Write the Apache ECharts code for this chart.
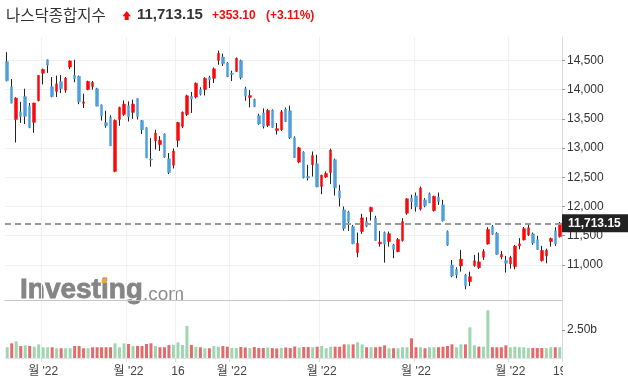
<!DOCTYPE html>
<html><head><meta charset="utf-8">
<script src="https://cdn.jsdelivr.net/npm/echarts@6/dist/echarts.min.js"></script>
<style>html,body{margin:0;padding:0;background:#fff}#c{width:628px;height:386px}</style>
</head><body><div id="c"></div>
<script>
const dates = ['01-20','01-21','01-24','01-25','01-26','01-27','01-28','01-31',
'02-01','02-02','02-03','02-04','02-07','02-08','02-09','02-10','02-11','02-14','02-15','02-16','02-17','02-18','02-22','02-23','02-24','02-25','02-28',
'03-01','03-02','03-03','03-04','03-07','03-08','03-09','03-10','03-11','03-14','03-15','03-16','03-17','03-18','03-21','03-22','03-23','03-24','03-25','03-28','03-29','03-30','03-31',
'04-01','04-04','04-05','04-06','04-07','04-08','04-11','04-12','04-13','04-14','04-18','04-19','04-20','04-21','04-22','04-25','04-26','04-27','04-28','04-29',
'05-02','05-03','05-04','05-05','05-06','05-09','05-10','05-11','05-12','05-13','05-16','05-17','05-18','05-19','05-20','05-23','05-24','05-25','05-26','05-27','05-31',
'06-01','06-02','06-03','06-06','06-07','06-08','06-09','06-10','06-13','06-14','06-15','06-16','06-17','06-21','06-22','06-23','06-24','06-27','06-28','06-29','06-30',
'07-01','07-05','07-06','07-07','07-08','07-11','07-12','07-13','07-14','07-15','07-18','07-19'];
const opens = [14480,14050,13490,13620,13880,13720,13440,13810,
14280,14510,14050,13970,14135,13990,14385,14243,14226,13765,14000,14055,14015,13740,13433,13525,12600,13490,13576,
13724,13610,13845,13470,13347,12810,13125,13060,13240,12815,12706,13130,13370,13575,13883,13873,14000,14000,14210,14192,14500,14558,14455,
14280,14312,14495,14015,13866,13832,13553,13600,13387,13650,13300,13313,13667,13638,13176,12760,12931,12513,12715,12730,
12342,12503,12580,12800,12268,11943,11908,11656,11211,11571,11742,11913,11800,11360,11554,11400,11343,11228,11417,11886,12143,
12182,11955,12114,12217,11930,12160,12028,11571,11000,10926,10983,10829,10714,10989,10954,11132,11360,11656,11543,11135,11074,
11017,10971,11326,11429,11514,11531,11429,11074,11155,11400,11583,11485];
const highs = [14640,14180,13870,13790,14015,13770,13775,14250,
14360,14515,14215,14240,14250,14215,14500,14510,14240,13930,14152,14147,14030,13745,13638,13560,13490,13707,13815,
13798,13827,13850,13480,13355,13170,13313,13205,13250,12914,12993,13448,13625,13912,13960,14123,14040,14210,14237,14380,14666,14615,14470,
14323,14550,14512,14049,13993,13845,13587,13678,13670,13663,13428,13650,13695,13724,13200,13020,12945,12713,12941,12885,
12543,12600,12990,12820,12371,12000,11925,11685,11554,11874,11816,11995,11840,11583,11571,11571,11360,11460,11800,12143,12200,
12239,12342,12143,12239,12182,12239,12114,11588,11086,10960,11257,10846,10885,11172,11211,11269,11646,11685,11560,11240,11155,
11155,11343,11458,11650,11714,11554,11497,11326,11280,11468,11646,11735];
const lows = [14140,13765,13094,13430,13410,13340,13260,13800,
14090,14285,13870,13873,13940,13945,14350,14125,13750,13684,13990,13998,13715,13470,13347,13037,12587,13380,13553,
13455,13500,13490,13240,12830,12683,12976,12950,12830,12555,12650,13016,13340,13550,13600,13850,13900,13900,14027,14113,14426,14404,14215,
14147,14300,14175,13810,13695,13700,13398,13335,13360,13347,13232,13290,13445,13154,12830,12740,12480,12444,12513,12330,
12211,12490,12383,12188,12000,11588,11583,11355,11132,11531,11646,11759,11417,11314,11040,11314,11115,11218,11400,11857,11955,
11913,11930,11988,12057,11913,12028,11742,11326,10790,10773,10885,10584,10641,10971,10932,11086,11348,11514,11175,11098,10868,
10937,10926,11269,11417,11497,11343,11257,11057,11029,11314,11326,11468];
const closes = [14154.02,13768.92,13855.13,13539.29,13542.12,13352.78,13770.57,14239.88,
14346.00,14417.55,13878.82,14098.01,14015.67,14194.46,14490.37,14185.64,13791.15,13790.92,14139.76,14124.09,13716.72,13548.07,13381.52,13037.49,13473.59,13694.62,13751.40,
13532.46,13752.02,13537.94,13313.44,12830.96,12795.55,13255.55,13129.96,12843.81,12581.22,12948.62,13436.55,13614.78,13893.84,13838.46,14108.82,13922.60,14191.84,14169.30,14354.90,14619.64,14442.27,14220.52,
14261.50,14532.55,14204.17,13888.82,13897.30,13711.00,13411.96,13371.57,13643.59,13351.08,13332.36,13619.66,13453.07,13174.65,12839.29,13004.85,12490.74,12488.93,12871.53,12334.64,
12536.02,12563.76,12964.86,12317.69,12144.66,11623.25,11737.67,11364.24,11370.96,11805.00,11662.79,11984.52,11418.15,11388.50,11354.62,11535.28,11264.45,11434.74,11740.65,12131.13,12081.39,
11994.46,12316.90,12012.73,12061.37,12175.23,12086.27,11754.23,11340.02,10809.23,10828.35,11099.15,10646.10,10798.35,11069.30,11053.08,11232.19,11607.62,11524.55,11181.54,11177.89,11028.74,
11127.85,11322.24,11361.85,11621.35,11635.31,11372.60,11264.73,11247.58,11251.19,11452.42,11360.05,11713.15];
const volumes = [0.96,1.31,1.49,1.07,1.13,1.07,1.01,1.22,
0.96,0.96,0.96,0.87,0.87,0.87,0.87,1.07,1.07,0.87,0.87,0.96,0.96,0.96,0.96,0.96,1.31,0.96,1.31,
1.25,1.07,1.07,1.07,1.25,1.31,1.07,0.96,0.96,1.16,1.16,1.40,1.16,2.86,1.16,1.01,0.96,0.87,0.87,1.07,1.01,1.07,1.01,
0.89,0.89,0.98,0.94,0.89,0.98,0.89,0.89,0.94,0.89,0.85,0.89,0.94,0.89,1.03,0.94,0.98,0.98,0.96,1.01,
1.07,0.87,1.01,1.01,1.01,1.22,1.22,1.22,1.40,1.22,0.96,0.96,0.96,1.01,1.13,0.87,0.87,0.87,0.96,0.96,1.76,
0.96,0.96,0.87,0.96,0.96,0.96,1.01,1.07,1.22,0.96,1.22,1.22,2.74,1.13,1.01,1.01,4.26,0.96,0.96,0.96,1.13,
0.96,1.01,0.96,0.96,0.89,0.89,0.89,0.89,0.89,0.96,0.96,0.96];
const tickIndex = [8,27,38,50,70,91,112,123];
const tickText = ["월 '22","월 '22","16","월 '22","월 '22","월 '22","월 '22","19"];
const priceTicks = [11000,11500,12000,12500,13000,13500,14000,14500];
const volumeTicks = [2.5];
const titleName = '나스닥종합지수';
const lastPriceText = '11,713.15';
const changeText = '+353.10';
const changePctText = '(+3.11%)';
const lastPrice = closes[closes.length - 1];

const RED = '#f80a0a', BLUE = '#4ea0dc', WICK = '#222';
const VUP = '#a0d5b2', VDN = '#e46b6b';
const FONT = "'Liberation Sans', 'Noto Sans CJK KR', sans-serif";

const wickData = dates.map((d, i) => [opens[i], closes[i], lows[i], highs[i]]);
const bodyData = dates.map((d, i) => [opens[i], closes[i], Math.min(opens[i], closes[i]), Math.max(opens[i], closes[i])]);
const volData = volumes.map((v, i) => ({
  value: v,
  itemStyle: { color: (i === 0 || closes[i] >= closes[i - 1]) ? VUP : VDN }
}));
const splitIdx = tickIndex.slice(0, tickIndex.length - 1);

const chart = echarts.init(document.getElementById('c'), null, { renderer: 'canvas' });
chart.setOption({
  animation: false,
  backgroundColor: '#fff',
  grid: [
    { left: 5, right: 66, top: 37, height: 263, outerBoundsMode: 'none' },
    { left: 5, right: 66, top: 300, height: 58, outerBoundsMode: 'none' }
  ],
  xAxis: [
    { type: 'category', gridIndex: 0, data: dates, boundaryGap: true,
      axisLine: { show: true, lineStyle: { color: '#c8c8c8', width: 1 } },
      axisTick: { show: false }, axisLabel: { show: false },
      splitLine: { show: true, interval: (i) => splitIdx.includes(i), lineStyle: { color: '#f1f1f1' } } },
    { type: 'category', gridIndex: 1, data: dates, boundaryGap: true,
      axisLine: { show: true, lineStyle: { color: '#e4e4e4' } },
      axisTick: { show: true, interval: (i) => splitIdx.includes(i), length: 4, lineStyle: { color: '#ddd' } },
      axisLabel: { show: true, interval: (i) => tickIndex.includes(i), margin: 8,
        formatter: (v, i) => { const k = tickIndex.indexOf(i); return k >= 0 ? tickText[k] : ''; },
        color: '#444', fontSize: 12, fontFamily: FONT },
      splitLine: { show: true, interval: (i) => splitIdx.includes(i), lineStyle: { color: '#f1f1f1' } } }
  ],
  yAxis: [
    { type: 'value', gridIndex: 0, position: 'right', min: 10400, max: 14900, scale: true,
      axisLine: { show: true, lineStyle: { color: '#d9dce6' } },
      axisTick: { show: true, length: 3, customValues: priceTicks, lineStyle: { color: '#999' } },
      axisLabel: { show: true, customValues: priceTicks, margin: 5, color: '#333', fontSize: 12, fontFamily: FONT,
        formatter: (v) => priceTicks.includes(v) ? v.toLocaleString('en-US') : '' },
      splitLine: { show: true, lineStyle: { color: '#f1f1f1' } } },
    { type: 'value', gridIndex: 1, position: 'right', min: 0, max: 5.18,
      axisLine: { show: true, lineStyle: { color: '#d9dce6' } },
      axisTick: { show: true, length: 3, customValues: volumeTicks, lineStyle: { color: '#999' } },
      axisLabel: { show: true, customValues: volumeTicks, margin: 5, color: '#333', fontSize: 12, fontFamily: FONT,
        formatter: (v) => volumeTicks.includes(v) ? v.toFixed(2) + 'b' : '' },
      splitLine: { show: false } }
  ],
  graphic: [
    { type: 'text', x: 20, y: 290.5, z: 0, silent: true,
      style: { text: 'Investing', font: "bold 28px 'Liberation Sans', Arial, sans-serif", fill: '#858585',
        stroke: '#858585', lineWidth: 0.8, verticalAlign: 'middle' } },
    { type: 'text', x: 143, y: 294.5, z: 0, silent: true,
      style: { text: '.com', font: "19px 'Liberation Sans', Arial, sans-serif", fill: '#8c8c8c', verticalAlign: 'middle' } },
    { type: 'polygon', z: 1, silent: true,
      shape: { points: [[101.7, 279.5], [106.7, 277.3], [106.7, 283], [101.7, 283]] }, style: { fill: '#f5a733' } },
    { type: 'rect', z: 100, silent: true, shape: { x: 563, y: 361, width: 65, height: 25 }, style: { fill: '#fff' } },
    { type: 'text', x: 6, y: 15, z: 100,
      style: { text: titleName, font: "15.5px 'Noto Sans CJK KR', sans-serif", fill: '#333', verticalAlign: 'middle' } },
    { type: 'polygon', z: 100,
      shape: { points: [[126.7, 11], [130.9, 16.3], [128.7, 16.3], [128.7, 20], [124.7, 20], [124.7, 16.3], [122.5, 16.3]] },
      style: { fill: RED } },
    { type: 'text', x: 137, y: 15, z: 100,
      style: { text: lastPriceText, font: "bold 15px 'Liberation Sans', Arial, sans-serif", fill: '#333', verticalAlign: 'middle' } },
    { type: 'text', x: 212, y: 15.5, z: 100,
      style: { text: changeText, font: "bold 12px 'Liberation Sans', Arial, sans-serif", fill: RED, verticalAlign: 'middle' } },
    { type: 'text', x: 266, y: 15.5, z: 100,
      style: { text: changePctText, font: "bold 12px 'Liberation Sans', Arial, sans-serif", fill: RED, verticalAlign: 'middle' } }
  ],
  series: [
    { name: 'wick', type: 'candlestick', xAxisIndex: 0, yAxisIndex: 0, data: wickData, barWidth: 1,
      itemStyle: { color: WICK, color0: WICK, borderColor: WICK, borderColor0: WICK, borderWidth: 1 } },
    { name: 'body', type: 'candlestick', xAxisIndex: 0, yAxisIndex: 0, data: bodyData, barWidth: 3,
      itemStyle: { color: RED, color0: BLUE, borderColor: RED, borderColor0: BLUE, borderWidth: 0.5 },
      markLine: { silent: true, symbol: ['none', 'none'], animation: false,
        lineStyle: { color: '#9a9a9a', type: [6, 4], width: 2 },
        label: { show: true, position: 'end', distance: 0, formatter: lastPriceText,
          backgroundColor: '#222', color: '#fff', fontWeight: 'bold', fontSize: 12, fontFamily: FONT,
          padding: [3, 10, 3, 6] },
        data: [{ yAxis: lastPrice }] } },
    { name: 'volume', type: 'bar', xAxisIndex: 1, yAxisIndex: 1, data: volData, barWidth: 3 }
  ]
});
</script></body></html>
